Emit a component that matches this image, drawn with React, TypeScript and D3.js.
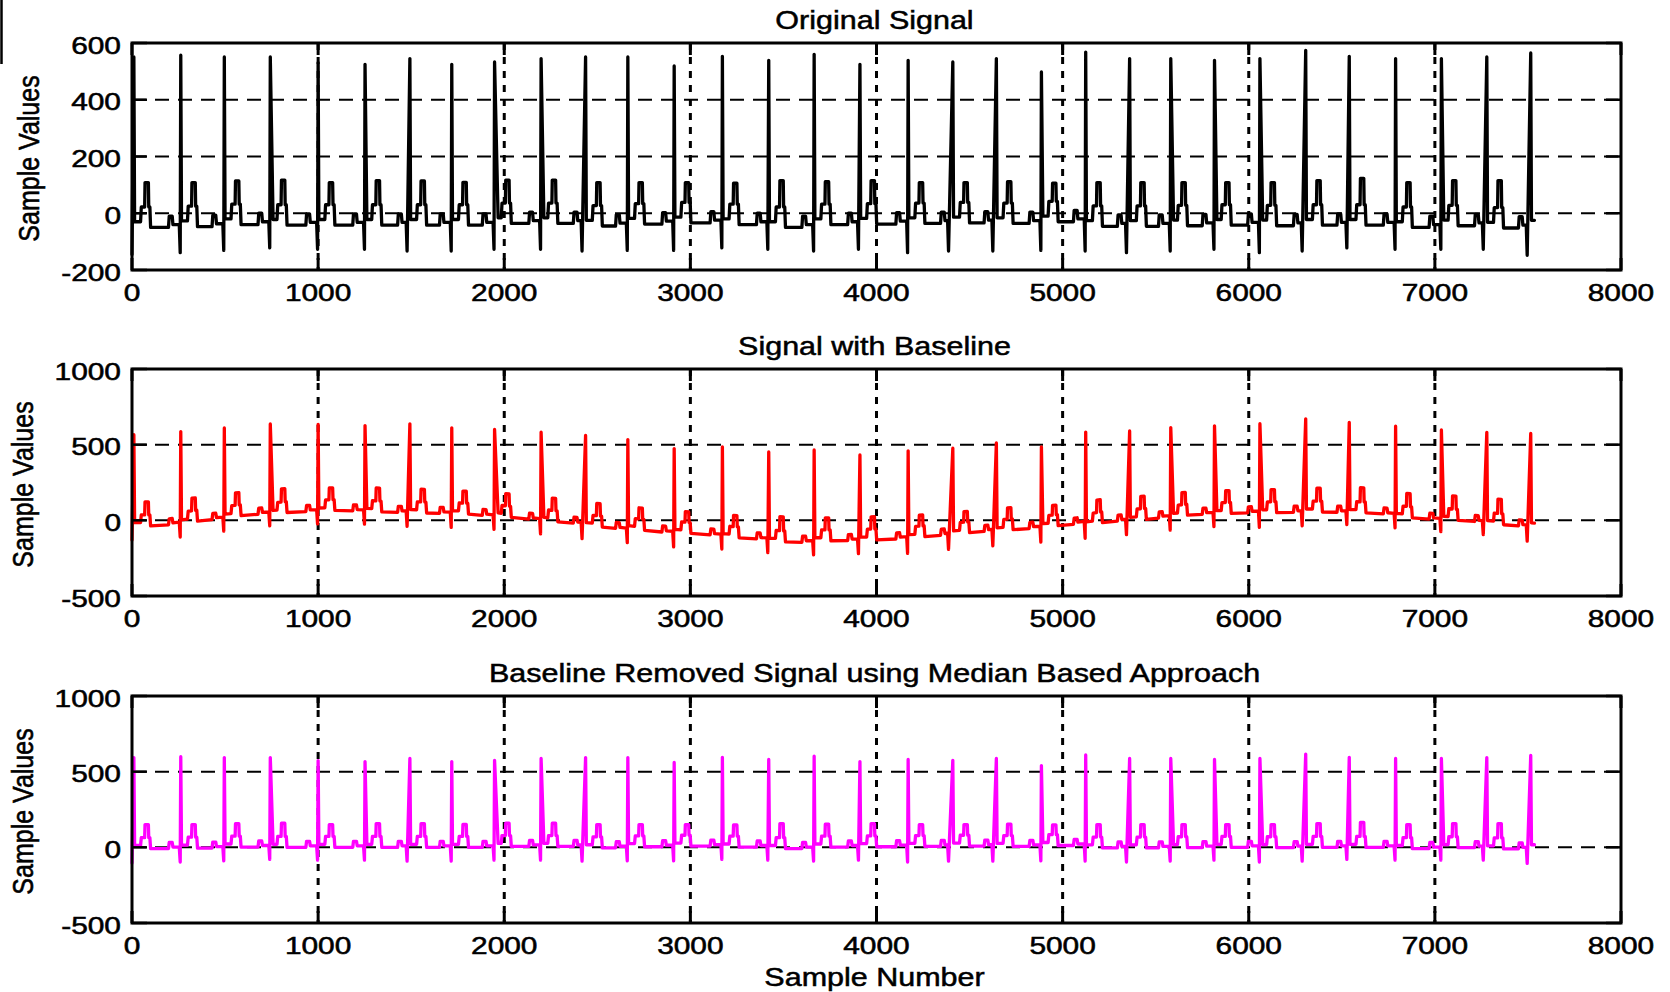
import React from "react";
import * as d3 from "d3";

// ---- data (sample index / amplitude) ----
const beatSample = [10, 262, 496, 743, 1000, 1252, 1493, 1718, 1948, 2198, 2437, 2664, 2913, 3172, 3421, 3665, 3911, 4170, 4410, 4644, 4886, 5124, 5360, 5581, 5816, 6060, 6306, 6540, 6789, 7035, 7279, 7515];
const rPeak = [551, 557, 551, 551, 531, 525, 545, 525, 533, 545, 551, 551, 519, 553, 539, 560, 525, 539, 533, 545, 498, 568, 545, 545, 539, 545, 574, 553, 545, 545, 551, 565];
const qDip = [-145, -139, -131, -122, -127, -127, -133, -133, -127, -127, -133, -131, -131, -122, -127, -133, -127, -139, -133, -133, -131, -133, -139, -133, -127, -139, -133, -122, -127, -127, -127, -148];
const tPeak = [108, 108, 114, 117, 108, 115, 114, 109, 117, 117, 108, 108, 108, 106, 115, 111, 115, 108, 108, 111, 106, 108, 108, 108, 108, 108, 115, 123, 108, 115, 115, 110];
const flatLevel = [-50, -47, -40, -42, -42, -42, -42, -42, -36, -36, -45, -38, -34, -40, -50, -40, -38, -36, -34, -36, -30, -46, -46, -44, -42, -44, -42, -42, -50, -44, -52, -45];
const upWidth = [10, 3, 3, 3, 3, 3, 15, 3, 3, 3, 19, 3, 3, 3, 5, 3, 8, 3, 23, 19, 3, 3, 17, 3, 3, 3, 19, 13, 3, 3, 19, 19];
const downWidth = [4, 4, 4, 15, 4, 10, 4, 4, 19, 15, 4, 4, 4, 4, 4, 4, 4, 4, 4, 4, 8, 4, 4, 15, 13, 15, 4, 4, 4, 13, 4, 4];
const wanderSample = [0, 150, 350, 620, 870, 1100, 1350, 1600, 1830, 2060, 2300, 2550, 2800, 3050, 3300, 3550, 3800, 4050, 4300, 4550, 4800, 5050, 5250, 5450, 5700, 5950, 6200, 6420, 6680, 6900, 7150, 7400, 7535];
const wanderValue = [15, 13, 42, 75, 97, 108, 97, 90, 82, 53, 25, -2, -35, -57, -79, -95, -95, -90, -68, -42, -20, 2, 37, 53, 82, 90, 97, 97, 90, 64, 42, 20, 7];
const MEDIAN_BASELINE = -42;
const END_SAMPLE = 7535;

const xTicks = [0, 1000, 2000, 3000, 4000, 5000, 6000, 7000, 8000];
const topTicks = [-200, 0, 200, 400, 600];
const lowTicks = [-500, 0, 500, 1000];
const titles = ["Original Signal", "Signal with Baseline", "Baseline Removed Signal using Median Based Approach"];
const colors = ["#000000", "#ff0000", "#ff00ff"];

type Pt = [number, number];

function buildOriginal(): Pt[] {
  const pts: Pt[] = [];
  beatSample.forEach((p, i) => {
    const bPrev = i > 0 ? flatLevel[i - 1] : flatLevel[0];
    const bNext = flatLevel[i];
    const seq: Pt[] = [
      [p - 66, bPrev], [p - 62, bPrev + 40], [p - 46, bPrev + 40], [p - 42, bPrev + 10],
      [p - upWidth[i] - 5, bPrev + 10], [p - upWidth[i], qDip[i]], [p, rPeak[i]],
      [p + downWidth[i], bNext + 20], [p + 36, bNext + 20], [p + 40, bNext + 72], [p + 58, bNext + 72],
      [p + 60, tPeak[i]], [p + 78, tPeak[i]], [p + 80, bNext + 72], [p + 86, bNext + 72], [p + 90, bNext],
    ];
    seq.forEach((pt) => { if (pt[0] >= 0) pts.push(pt); });
  });
  const out: Pt[] = [];
  for (let k = 0; k < pts.length; k++) {
    if (pts[k][0] <= END_SAMPLE) out.push(pts[k]);
    else {
      const a = out[out.length - 1];
      const b = pts[k];
      const f = (END_SAMPLE - a[0]) / (b[0] - a[0]);
      out.push([END_SAMPLE, a[1] + f * (b[1] - a[1])]);
      break;
    }
  }
  return out;
}

const LEFT = 132;
const RIGHT = 1621;
const PH = 227;
const TOPS = [43, 369, 696];
const FONT = "'Liberation Sans', Arial, sans-serif";
const SX = 1.3;
const TXT = { fill: "#000", stroke: "#000", strokeWidth: 0.5 };

export default function App() {
  const orig = buildOriginal();
  const wander = d3.scaleLinear().domain(wanderSample).range(wanderValue).clamp(true);
  const series: Pt[][] = [
    orig,
    orig.map(([s, v]) => [s, v + wander(s)] as Pt),
    orig.map(([s, v]) => [s, v - MEDIAN_BASELINE] as Pt),
  ];
  const x = d3.scaleLinear().domain([0, 8000]).range([LEFT, RIGHT]);

  return (
    <svg width={1670} height={992} style={{ position: "absolute", left: 0, top: 0, background: "#fff" }} fontFamily={FONT}>
      <rect x={0} y={0} width={1670} height={992} fill="#fff" />
      <line x1={1.5} x2={1.5} y1={0} y2={64} stroke="#000" strokeWidth={2.5} />
      {[0, 1, 2].map((pi) => {
        const top = TOPS[pi];
        const bottom = top + PH;
        const ticks = pi === 0 ? topTicks : lowTicks;
        const y = d3.scaleLinear().domain([ticks[0], ticks[ticks.length - 1]]).range([bottom, top]);
        const line = d3.line<Pt>().x((d) => x(d[0])).y((d) => y(d[1]));
        const cy = (top + bottom) / 2 + 2;
        const ylx = pi === 0 ? 29 : 23;
        return (
          <g key={pi}>
            {ticks.slice(1, -1).map((t) => (
              <line key={"h" + t} x1={LEFT} x2={RIGHT} y1={y(t)} y2={y(t)} stroke="#000" strokeWidth={2} strokeDasharray="14,9" />
            ))}
            {xTicks.slice(1, -1).map((t) => (
              <line key={"v" + t} x1={x(t)} x2={x(t)} y1={top} y2={bottom} stroke="#000" strokeWidth={3} strokeDasharray="7,7" />
            ))}
            <path d={line(series[pi]) || ""} fill="none" stroke={colors[pi]} strokeWidth={3.3} strokeLinejoin="round" strokeLinecap="round" />
            {xTicks.map((t) => (
              <g key={"xt" + t}>
                <line x1={x(t)} x2={x(t)} y1={bottom} y2={bottom - 12} stroke="#000" strokeWidth={3} />
                <line x1={x(t)} x2={x(t)} y1={top} y2={top + 12} stroke="#000" strokeWidth={3} />
                <text transform={`translate(${x(t)},${bottom + 31}) scale(${SX},1)`} textAnchor="middle" fontSize={23} {...TXT}>{t}</text>
              </g>
            ))}
            {ticks.map((t) => (
              <g key={"yt" + t}>
                <line x1={LEFT} x2={LEFT + 15} y1={y(t)} y2={y(t)} stroke="#000" strokeWidth={2.5} />
                <line x1={RIGHT} x2={RIGHT - 15} y1={y(t)} y2={y(t)} stroke="#000" strokeWidth={2.5} />
                <text transform={`translate(121,${y(t) + 10.5}) scale(${SX},1)`} textAnchor="end" fontSize={23} {...TXT}>{t}</text>
              </g>
            ))}
            <rect x={LEFT} y={top} width={RIGHT - LEFT} height={PH} fill="none" stroke="#000" strokeWidth={3} />
            <text transform={`translate(${(LEFT + RIGHT) / 2 - 2},${top - 14}) scale(1.22,1)`} textAnchor="middle" fontSize={25} {...TXT}>{titles[pi]}</text>
            <text transform={`translate(${ylx},${cy}) rotate(-90) scale(1,1.2)`} textAnchor="middle" dominantBaseline="central" fontSize={25} {...TXT}>Sample Values</text>
          </g>
        );
      })}
      <text transform={`translate(${(LEFT + RIGHT) / 2 - 2},${986}) scale(1.22,1)`} textAnchor="middle" fontSize={25} {...TXT}>Sample Number</text>
    </svg>
  );
}
